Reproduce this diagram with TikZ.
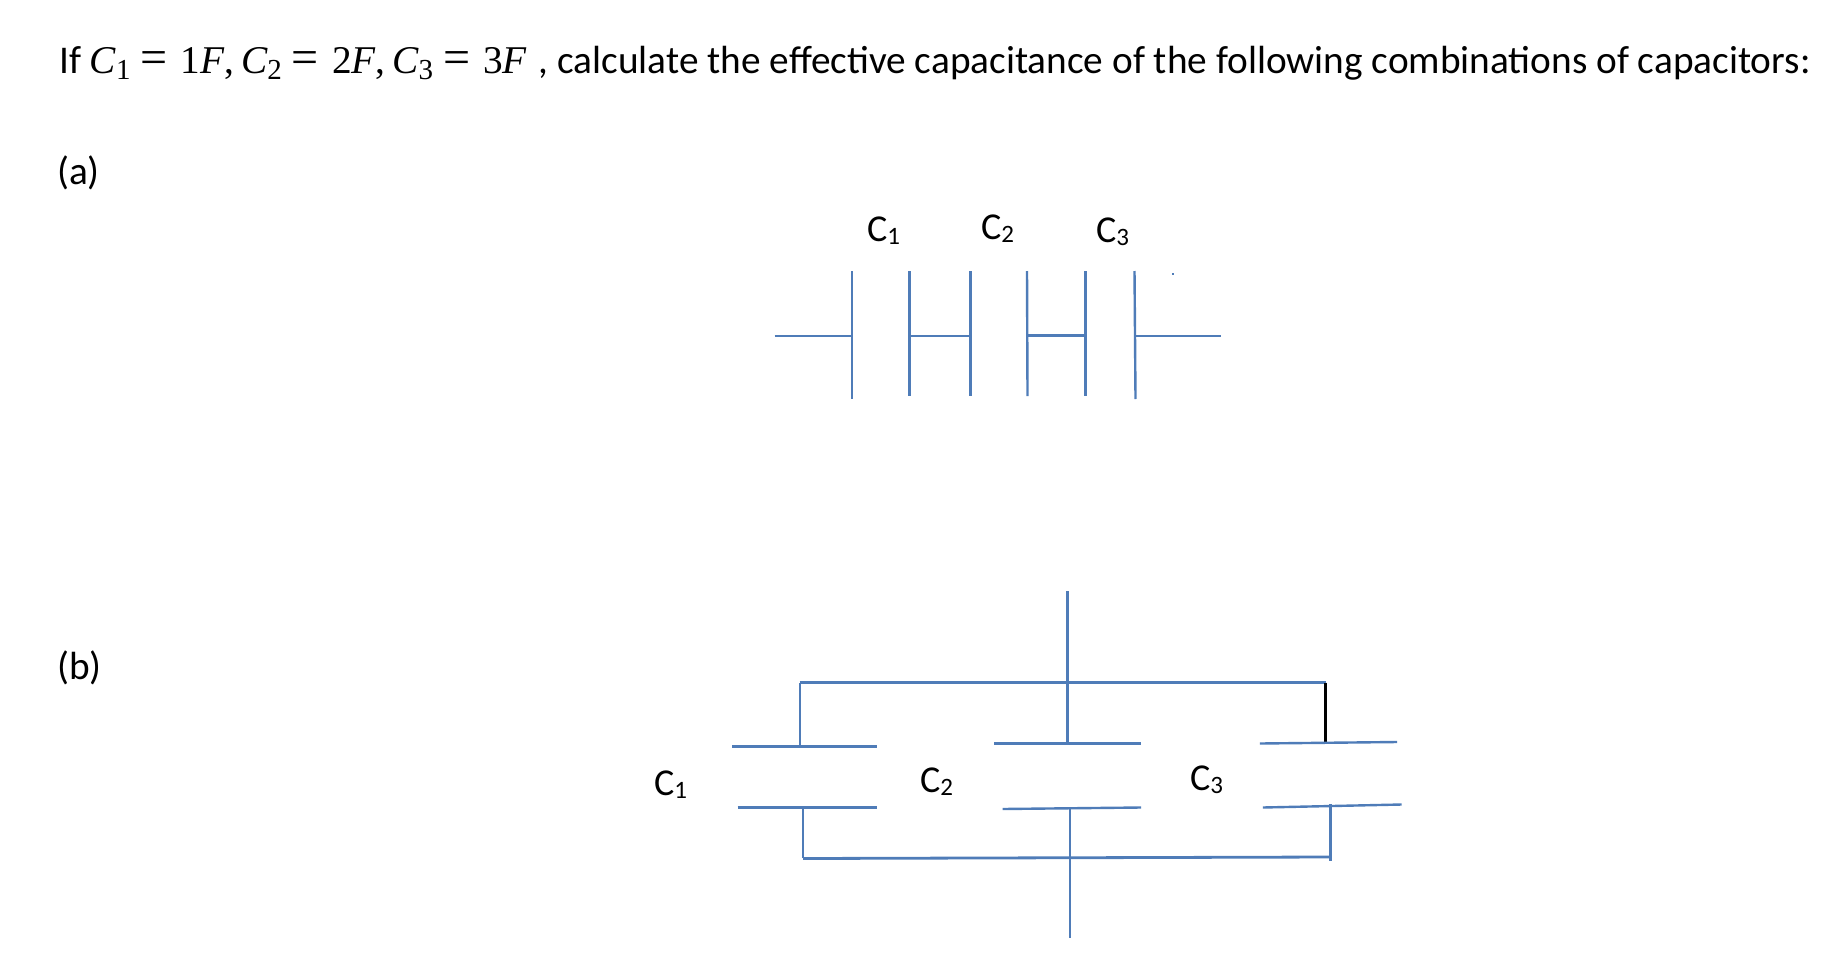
\documentclass[tikz,border=0pt]{standalone}
\usepackage{fontspec}
\setmainfont{Carlito}
\newfontfamily\cambfnt{Liberation Serif}
\definecolor{wire}{HTML}{4F7CB8}
\newcommand{\mC}[1]{{\cambfnt\itshape C}\raisebox{-6pt}{\fontsize{29}{29}\selectfont\cambfnt #1}}
\newcommand{\mF}{{\cambfnt\itshape F}}
\newcommand{\meq}{\hspace{10pt}\raisebox{0pt}{\fontsize{48}{48}\selectfont\cambfnt =}\hspace{13pt}}
\newcommand{\mcom}{{\cambfnt ,}\hspace{7pt}}
\newcommand{\Csub}[1]{C\raisebox{-3pt}{\fontsize{25}{25}\selectfont #1}}
\tikzset{
  wireline/.style={draw=wire,line width=2.4pt},
  blackline/.style={draw=black,line width=2.4pt},
  headtext/.style={anchor=base west,inner sep=0pt,font=\fontsize{39.3}{46}\selectfont},
  clabel/.style={anchor=base west,inner sep=0pt,font=\fontsize{38}{44}\selectfont},
}
\begin{document}
\begin{tikzpicture}[x=1pt,y=-1pt]
\useasboundingbox (0,0) rectangle (1838,974);
\node[headtext] (head) at (59,73.5) {If \mC{1}\meq{\cambfnt 1}\mF\mcom\mC{2}\meq{\cambfnt 2}\mF\mcom\mC{3}\meq{\cambfnt 3}\mF\hspace{3pt} , calculate the effective capacitance of the following combinations of capacitors:};
\node[headtext] (la) at (57,184) {(a)};
\node[headtext] (lb) at (57,679) {(b)};
% (a)
\node[clabel] (ac1) at (867,241) {\Csub{1}};
\node[clabel] (ac2) at (981,239) {\Csub{2}};
\node[clabel] (ac3) at (1096,242) {\Csub{3}};
\coordinate (p1t) at (852,271);   \coordinate (p1b) at (852,399);
\coordinate (p2t) at (909.5,271); \coordinate (p2b) at (909.5,396);
\coordinate (p3t) at (970.5,271); \coordinate (p3b) at (970.5,396);
\coordinate (p4t) at (1027,271);  \coordinate (p4b) at (1027.5,396);
\coordinate (p5t) at (1085.5,271);\coordinate (p5b) at (1085.5,396);
\coordinate (p6t) at (1134.5,271);\coordinate (p6b) at (1135.5,399);
\coordinate (wl) at (774.5,336);  \coordinate (wr) at (1221,336);
\coordinate (p1m) at (852,336); \coordinate (p2m) at (909.5,336);
\coordinate (p3m) at (970.5,336); \coordinate (p4m) at (1027,335.5);
\coordinate (p5m) at (1085.5,335.5); \coordinate (p6m) at (1135,336);
\foreach \n in {1,...,6} {\draw[wireline] (p\n t) -- (p\n b);}
\draw[wireline] (wl) -- (p1m);
\draw[wireline] (p2m) -- (p3m);
\draw[wireline] (p4m) -- (p5m);
\draw[wireline] (p6m) -- (wr);
\fill[wire] (1172,273) rectangle (1174,275);
% (b)
\node[clabel] (bc1) at (654,795) {\Csub{1}};
\node[clabel] (bc2) at (920,792) {\Csub{2}};
\node[clabel] (bc3) at (1190,790) {\Csub{3}};
\coordinate (top) at (1067.4,591);
\coordinate (busl) at (799.7,682.5); \coordinate (busm) at (1067.4,682.5); \coordinate (busr) at (1325.6,682.5);
\coordinate (t1l) at (732,746.5); \coordinate (t1r) at (876.8,746.5); \coordinate (t1m) at (799.7,746.5);
\coordinate (t2l) at (994.2,743.5); \coordinate (t2r) at (1141,743.5); \coordinate (t2m) at (1067.4,743.5);
\coordinate (t3l) at (1259.9,743.5); \coordinate (t3r) at (1397.2,742); \coordinate (t3m) at (1325.6,743);
\coordinate (b1l) at (737.5,807.5); \coordinate (b1r) at (876.8,807.5); \coordinate (b1m) at (802.7,807.5);
\coordinate (b2l) at (1002.7,809); \coordinate (b2r) at (1141,807.5); \coordinate (b2m) at (1069.8,808.5);
\coordinate (b3l) at (1262.9,807.5); \coordinate (b3r) at (1401.7,804.5); \coordinate (b3m) at (1330.5,804);
\coordinate (dbl) at (802.7,858); \coordinate (dbr) at (1330.5,861);
\coordinate (bus2l) at (803.2,858.5); \coordinate (bus2r) at (1330.5,857);
\coordinate (bot) at (1069.8,937.5);
\draw[wireline] (top) -- (busm);
\draw[wireline,line width=2.8pt] (busl) -- (busr);
\draw[wireline] (busl) -- (t1m);
\draw[wireline] (busm) -- (t2m);
\draw[blackline] (busr) -- (t3m);
\draw[wireline] (t1l) -- (t1r);
\draw[wireline] (t2l) -- (t2r);
\draw[wireline] (t3l) -- (t3r);
\draw[wireline] (b1l) -- (b1r);
\draw[wireline] (b2l) -- (b2r);
\draw[wireline] (b3l) -- (b3r);
\draw[wireline] (b1m) -- (dbl);
\draw[wireline] (b2m) -- (bot);
\draw[wireline] (b3m) -- (dbr);
\draw[wireline,line width=2.8pt] (bus2l) -- (bus2r);
\end{tikzpicture}
\end{document}
